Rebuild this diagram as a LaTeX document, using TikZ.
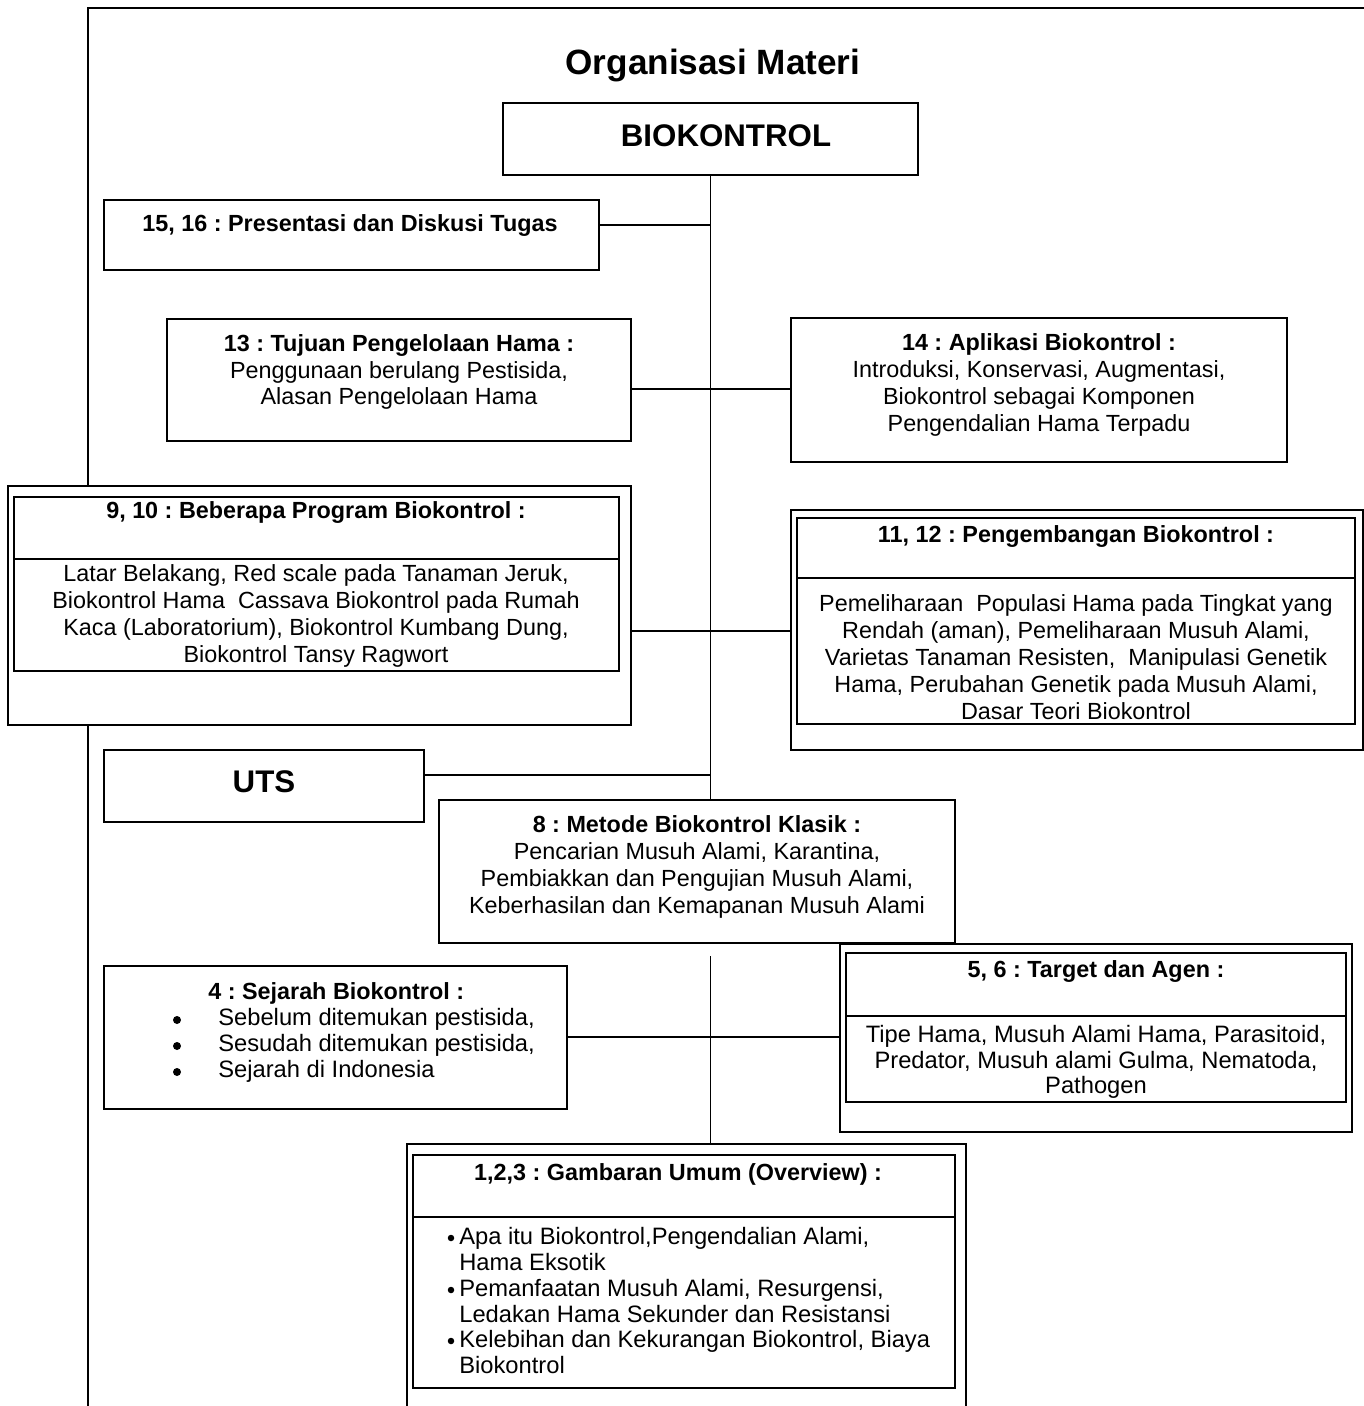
\documentclass[tikz,border=0pt]{standalone}
\usepackage{fontspec}
\setmainfont{Liberation Sans}
\usetikzlibrary{fit}
\frenchspacing

\tikzset{
  panel/.style={draw, line width=0.8pt, fill=white, inner sep=0pt},
  conn/.style={line width=0.8pt},
  dot/.style={circle, fill, draw=none, inner sep=0pt, minimum size=#1},
  bodytxt/.style={align=center, inner sep=0pt, font=\fontsize{13.3}{15.3}\selectfont},
  headtxt/.style={bodytxt, font=\bfseries\fontsize{13.3}{15.3}\selectfont},
  lowtxt/.style={align=center, inner sep=0pt, font=\fontsize{13.5}{14.5}\selectfont},
  bigtxt/.style={inner sep=0pt, font=\bfseries\fontsize{17.8}{20}\selectfont},
}

\begin{document}
\begin{tikzpicture}[x=0.02cm, y=-0.02cm]
    \useasboundingbox (0,0) rectangle (1364,1406);
    \clip (0,0) rectangle (1364,1406);

    % Page frame
    \draw[line width=1.2pt] (88,1406) -- (88,8) -- (1364,8);

    \node[inner sep=0pt, font=\bfseries\fontsize{20}{24}\selectfont] (title) at (713,65) {Organisasi Materi};

    % Top boxes
    \node[panel, fit={(503,103) (918,175)}] (biokontrol) {};
    \node[bigtxt] (biokontrol-t) at (726,136) {BIOKONTROL};

    \node[panel, fit={(104,200) (599,270)}] (presentasi) {};
    \node[headtxt] (presentasi-t) at (350,226) {15, 16 : Presentasi dan Diskusi Tugas};

    \node[panel, fit={(167,319) (631,441)}] (tujuan) {};
    \node[bodytxt] (tujuan-t) at (399,372) {\textbf{13 : Tujuan Pengelolaan Hama :}\\Penggunaan berulang Pestisida,\\Alasan Pengelolaan Hama};

    \node[panel, fit={(791,318) (1287,462)}] (aplikasi) {};
    \node[bodytxt] (aplikasi-t) at (1039,385) {\textbf{14 : Aplikasi Biokontrol :}\\Introduksi, Konservasi, Augmentasi,\\Biokontrol sebagai Komponen\\Pengendalian Hama Terpadu};

    % Boxes with a heading row
    \node[panel, fit={(8,486) (631,725)}] (program) {};
    \node[panel, fit={(14,497) (619,671)}] (program-in) {};
    \draw[conn] (program-in.west |- 0,559) -- (program-in.east |- 0,559);
    \node[headtxt] (program-h) at (316,513) {9, 10 : Beberapa Program Biokontrol :};
    \node[bodytxt] (program-t) at (316,616) {Latar Belakang, Red scale pada Tanaman Jeruk,\\Biokontrol Hama\ \ Cassava Biokontrol pada Rumah\\Kaca (Laboratorium), Biokontrol Kumbang Dung,\\Biokontrol Tansy Ragwort};

    \node[panel, fit={(791,510) (1363,750)}] (pengembangan) {};
    \node[panel, fit={(797,518) (1355,724)}] (pengembangan-in) {};
    \draw[conn] (pengembangan-in.west |- 0,578) -- (pengembangan-in.east |- 0,578);
    \node[headtxt] (pengembangan-h) at (1076,537) {11, 12 : Pengembangan Biokontrol :};
    \node[bodytxt] (pengembangan-t) at (1076,657) {Pemeliharaan\ \ Populasi Hama pada Tingkat yang\\Rendah (aman), Pemeliharaan Musuh Alami,\\Varietas Tanaman Resisten,\ \ Manipulasi Genetik\\Hama, Perubahan Genetik pada Musuh Alami,\\Dasar Teori Biokontrol};

    \node[panel, fit={(104,750) (424,822)}] (uts) {};
    \node[bigtxt] (uts-t) at (264,782) {UTS};

    \node[panel, fit={(439,800) (955,943)}] (metode) {};
    \node[bodytxt] (metode-t) at (697,867) {\textbf{8 : Metode Biokontrol Klasik :}\\Pencarian Musuh Alami, Karantina,\\Pembiakkan dan Pengujian Musuh Alami,\\Keberhasilan dan Kemapanan Musuh Alami};

    % Lower boxes
    \node[panel, fit={(104,966) (567,1109)}] (sejarah) {};
    \node[headtxt, anchor=west] (sejarah-h) at (208,993) {4 : Sejarah Biokontrol :};
    \foreach \y/\txt [count=\i] in {1019/{Sebelum ditemukan pestisida,}, 1045/{Sesudah ditemukan pestisida,}, 1071/{Sejarah di Indonesia}} {
        \node[dot=0.16cm] (sb\i) at (177,\y+1) {};
        \node[lowtxt, anchor=west] (st\i) at (218,\y) {\txt};
    }

    \node[panel, fit={(840,944) (1352,1132)}] (target) {};
    \node[panel, fit={(846,953) (1346,1102)}] (target-in) {};
    \draw[conn] (target-in.west |- 0,1016) -- (target-in.east |- 0,1016);
    \node[headtxt] (target-h) at (1096,971) {5, 6 : Target dan Agen :};
    \node[lowtxt] (target-t) at (1096,1062) {Tipe Hama, Musuh Alami Hama, Parasitoid,\\Predator, Musuh alami Gulma, Nematoda,\\Pathogen};

    \node[panel, fit={(407,1144) (966,1440)}] (overview) {};
    \node[panel, fit={(413,1155) (955,1388)}] (overview-in) {};
    \draw[conn] (overview-in.west |- 0,1217) -- (overview-in.east |- 0,1217);
    \node[headtxt] (overview-h) at (678,1174) {1,2,3 : Gambaran Umum (Overview) :};
    \foreach \y [count=\i] in {1236,1288,1339}
        \node[dot=0.13cm] (ob\i) at (451,\y+2) {};
    \node[lowtxt, align=left, anchor=north west] (ot1) at (459,1227) {Apa itu Biokontrol,Pengendalian Alami,\\Hama Eksotik};
    \node[lowtxt, align=left, anchor=north west] (ot2) at (459,1279) {Pemanfaatan Musuh Alami, Resurgensi,\\Ledakan Hama Sekunder dan Resistansi};
    \node[lowtxt, align=left, anchor=north west] (ot3) at (459,1330) {Kelebihan dan Kekurangan Biokontrol, Biaya\\Biokontrol};

    % Connectors
    \coordinate (j1) at (biokontrol.south |- 0,225);
    \coordinate (j2) at (biokontrol.south |- 0,389);
    \coordinate (j3) at (biokontrol.south |- 0,631);
    \coordinate (j4) at (biokontrol.south |- 0,775);
    \coordinate (j5) at (biokontrol.south |- 0,1037);
    \coordinate (t1) at (biokontrol.south |- 0,956);
    \draw[conn] (biokontrol.south) -- (biokontrol.south |- metode.north);
    \draw[conn] (t1) -- (biokontrol.south |- overview.north);
    \draw[conn] (j1 -| presentasi.east) -- (j1);
    \draw[conn] (j2 -| tujuan.east) -- (j2 -| aplikasi.west);
    \draw[conn] (j3 -| program.east) -- (j3 -| pengembangan.west);
    \draw[conn] (j4 -| uts.east) -- (j4);
    \draw[conn] (j5 -| sejarah.east) -- (j5 -| target.west);
\end{tikzpicture}
\end{document}
